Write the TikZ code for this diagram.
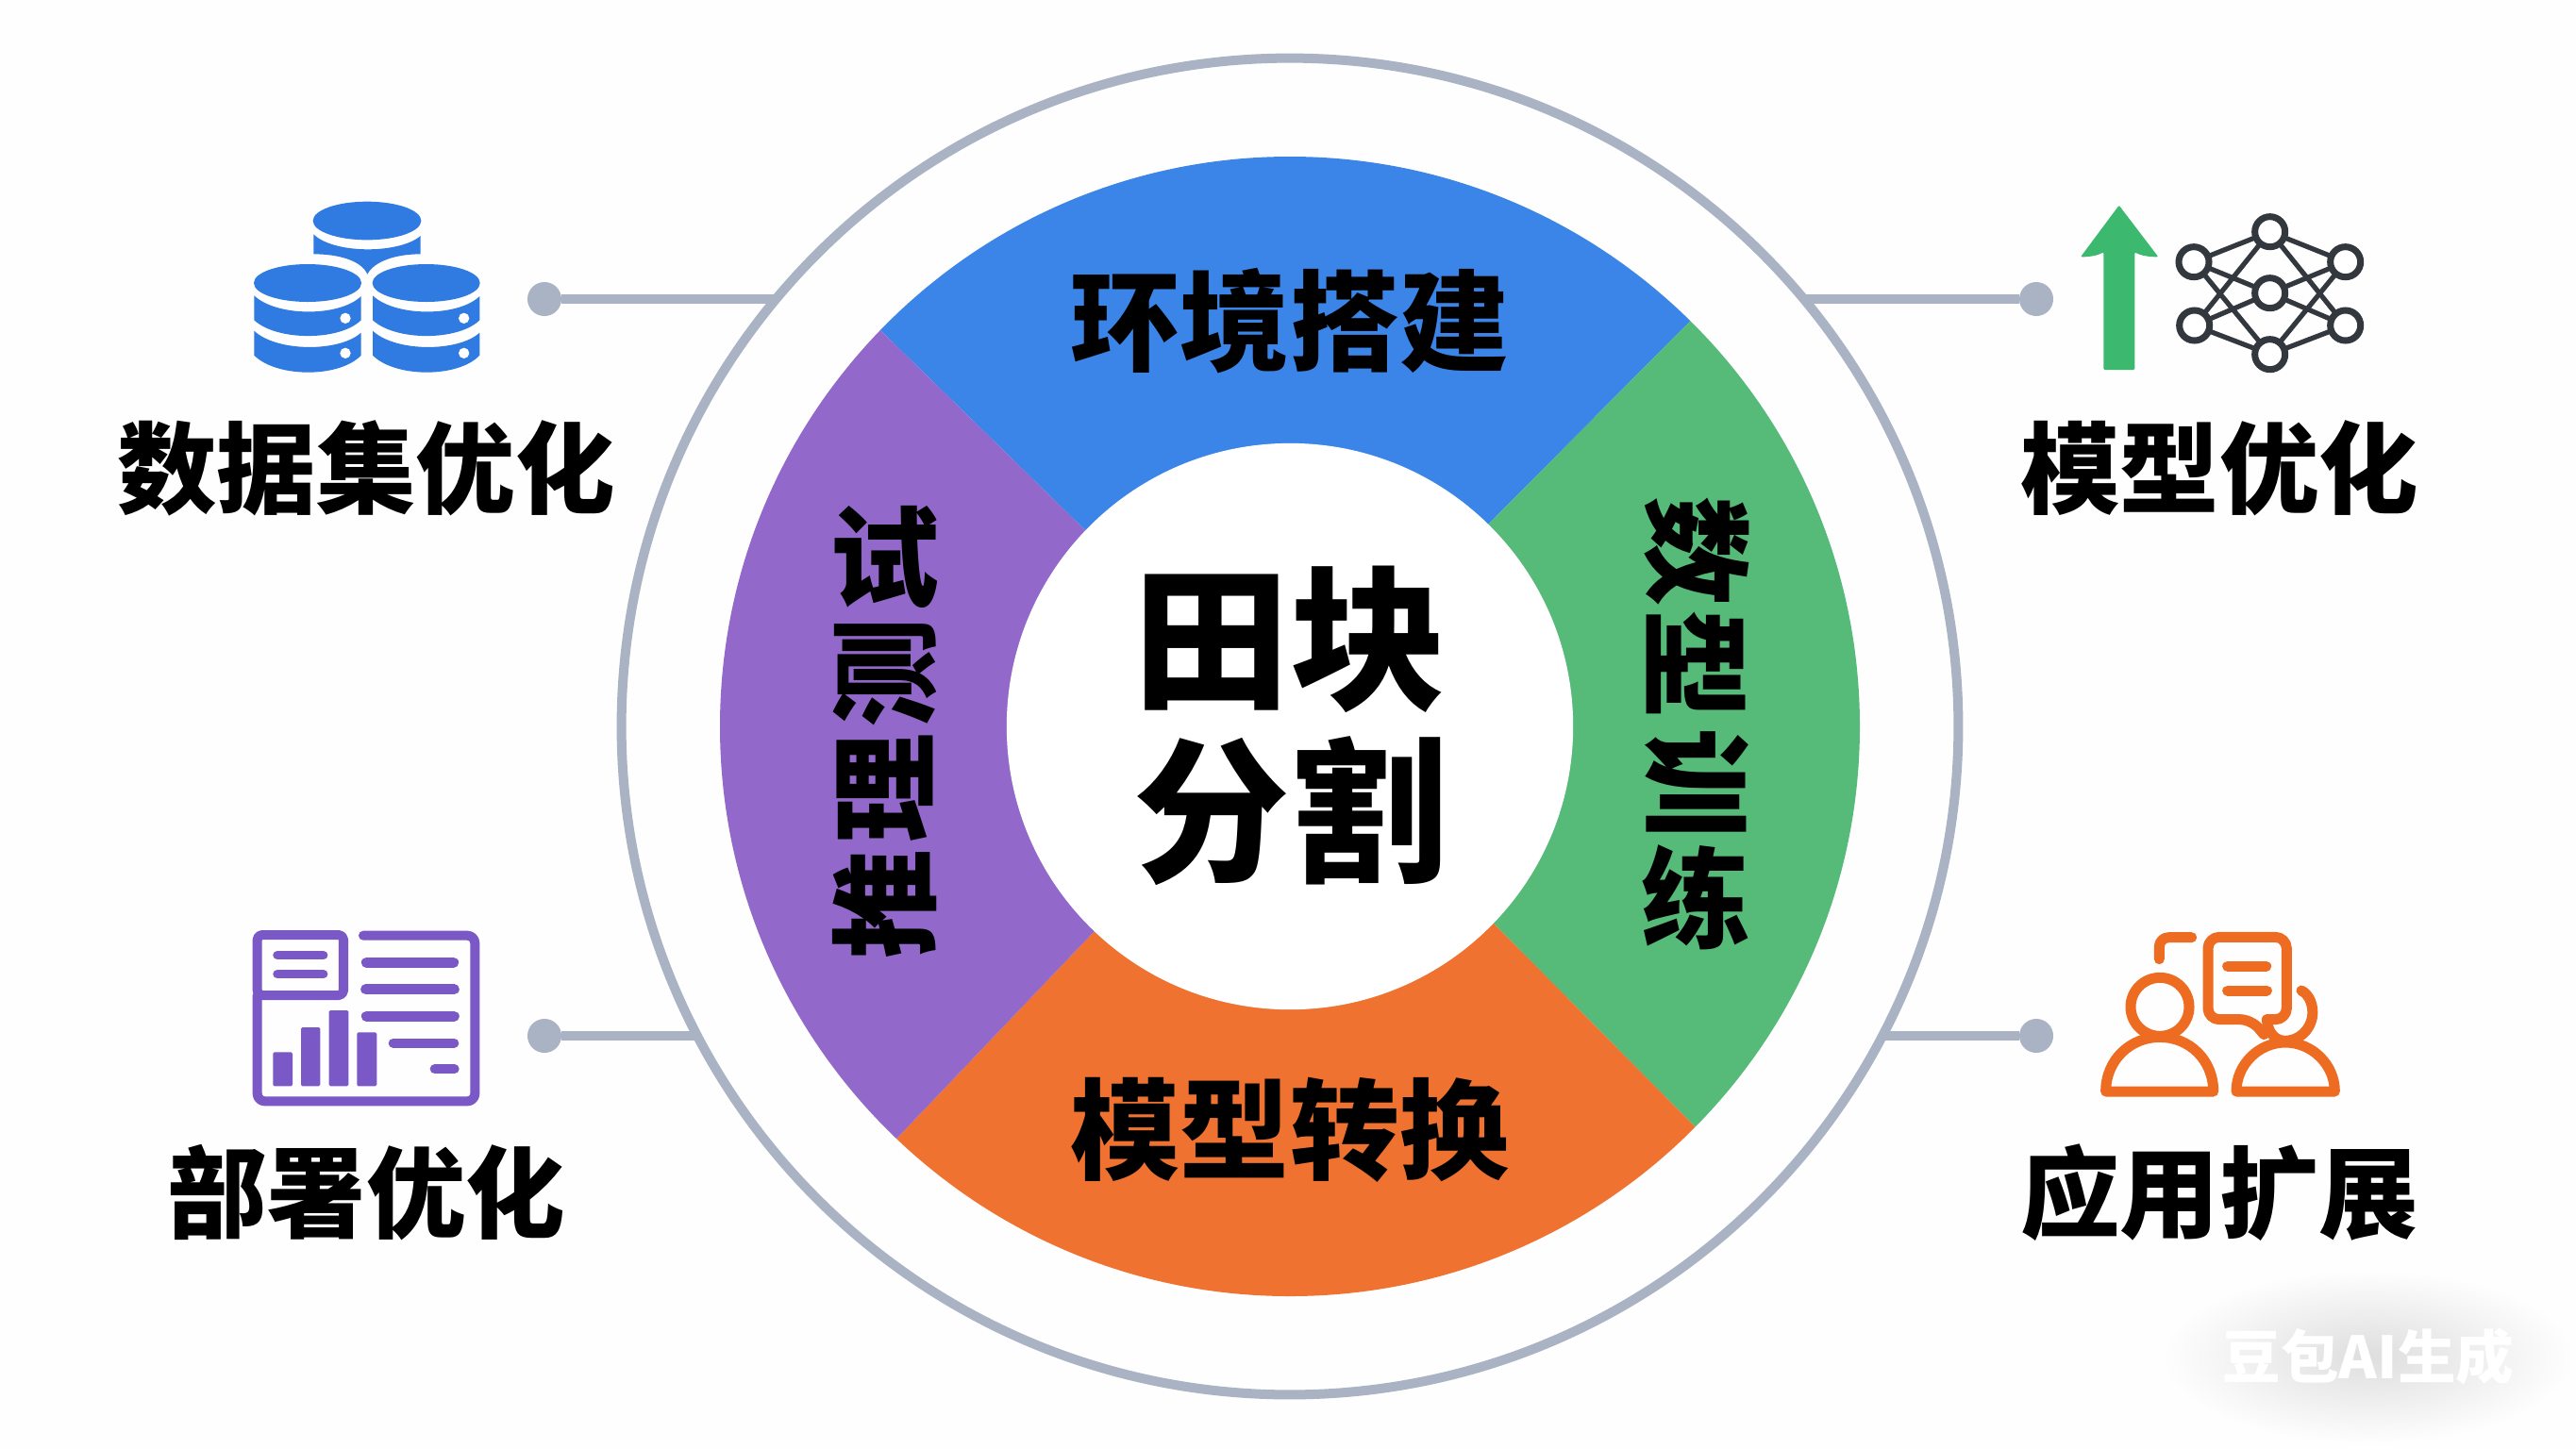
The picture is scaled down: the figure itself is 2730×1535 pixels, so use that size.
\documentclass[tikz,border=0pt]{standalone}
\usepackage{fontspec}
\usetikzlibrary{shadings}
\newfontfamily\cjk{Noto Sans CJK SC Black}
\definecolor{bgc}{HTML}{FEFEFE}
\definecolor{ringc}{HTML}{A9B3C3}
\definecolor{bluec}{HTML}{3C85E8}
\definecolor{purplec}{HTML}{9368CB}
\definecolor{greenc}{HTML}{56BA79}
\definecolor{orangec}{HTML}{EF7231}
\definecolor{iconblue}{HTML}{2F7BE2}
\definecolor{iconpurple}{HTML}{7A58C6}
\definecolor{icongreen}{HTML}{3DB86F}
\definecolor{iconorange}{HTML}{EE6C22}
\definecolor{netc}{HTML}{33383F}
\tikzset{
  x=0.01cm,y=-0.01cm,
  label text/.style={font=\cjk\fontsize{30pt}{32pt}\selectfont,inner sep=0,text=black},
  seg text/.style={font=\cjk\fontsize{33pt}{35pt}\selectfont,inner sep=0,text=black},
  hub text/.style={font=\cjk\fontsize{47pt}{51pt}\selectfont,inner sep=0,text=black},
  dotnode/.style={circle,fill=ringc,inner sep=0,outer sep=0,minimum size=0.36cm},
  wire/.style={draw=ringc,line width=0.1cm},
  netnode/.style={circle,draw=netc,fill=white,line width=0.07cm,inner sep=0,minimum size=0.32cm},
  netline/.style={draw=netc,line width=0.052cm},
  repstroke/.style={draw=iconpurple,line width=0.1cm,line cap=round,line join=round},
  repline/.style={draw=iconpurple,line width=0.1cm,line cap=round},
  repbar/.style={fill=iconpurple,rounded corners=0.015cm},
  pplstroke/.style={draw=iconorange,line width=0.11cm,line cap=round,line join=round},
}
\begin{document}
\begin{tikzpicture}
\useasboundingbox (0,0) rectangle (2730,1535);
\fill[bgc] (0,0) rectangle (2730,1535);

% coloured ring
\begin{scope}
\clip (1367,770) circle[radius=604];
\fill[bluec] (1367,770) -- (1149,561) -- (721,143) -- (1367,-100) -- (2000,130) -- (1579,554) -- cycle;
\fill[greenc] (1367,770) -- (1579,554) -- (2000,130) -- (2300,770) -- (2000,1400) -- (1584,980) -- cycle;
\fill[orangec] (1367,770) -- (1584,980) -- (2000,1400) -- (1367,1700) -- (746,1421) -- (1158,989) -- cycle;
\fill[purplec] (1367,770) -- (1158,989) -- (746,1421) -- (500,770) -- (721,143) -- (1149,561) -- cycle;
\end{scope}
\node[circle,fill=white,inner sep=0,outer sep=0,minimum size=6cm] (hub) at (1367,770) {};
\node[circle,draw=ringc,line width=0.1cm,inner sep=0,outer sep=0,minimum size=14.16cm] (ring) at (1367,770) {};

% connectors
\node[dotnode] (dotTL) at (577,317) {};
\node[dotnode] (dotTR) at (2158,317) {};
\node[dotnode] (dotBL) at (577,1098) {};
\node[dotnode] (dotBR) at (2158,1098) {};
\coordinate (ringTL) at (823,317);
\coordinate (ringTR) at (1911,317);
\coordinate (ringBL) at (740,1098);
\coordinate (ringBR) at (1994,1098);
\draw[wire] (dotTL) -- (ringTL);
\draw[wire] (dotTR) -- (ringTR);
\draw[wire] (dotBL) -- (ringBL);
\draw[wire] (dotBR) -- (ringBR);

% centre and segment texts
\node[hub text] (hubA) at (1367,678) {田块};
\node[hub text] (hubB) at (1367,860) {分割};
\node[seg text] (segTop) at (1367,340) {环境搭建};
\node[seg text] (segBot) at (1367,1198) {模型转换};
\node[seg text] (lA) at (938,590) {试};
\node[seg text,rotate=90] (lB) at (938,713) {测};
\node[seg text,rotate=90] (lC) at (938,835) {理};
\node[seg text,rotate=90] (lD) at (938,958) {推};
\node[seg text,rotate=-90] (rA) at (1798,585) {数};
\node[seg text,rotate=-90] (rB) at (1798,705) {型};
\node[seg text,rotate=-90] (rC) at (1798,830) {训};
\node[seg text] (rD) at (1798,951) {练};

% side labels
\node[label text] (lbTL) at (388,496) {数据集优化};
\node[label text] (lbTR) at (2352,496) {模型优化};
\node[label text] (lbBL) at (388,1264) {部署优化};
\node[label text] (lbBR) at (2352,1264) {应用扩展};

% database icon
\begin{scope}[shift={(220,180)},scale=1/3]
\fill[iconblue] (507,162) ellipse[x radius=172,y radius=61];
\fill[iconblue] (337,205) .. controls (400,268) and (610,268) .. (677,210) -- (677,268) .. controls (600,268) and (530,290) .. (508,332) .. controls (490,290) and (420,268) .. (337,268) -- cycle;
\foreach \dx in {0,377}{
\begin{scope}[shift={(\dx,0)}]
\fill[iconblue] (318,360) ellipse[x radius=171,y radius=60];
\fill[iconblue] (148,400) .. controls (220,468) and (420,468) .. (488,402) -- (488,478) .. controls (420,545) and (220,545) .. (148,478) -- cycle;
\fill[iconblue] (148,512) .. controls (220,580) and (420,580) .. (488,518) -- (488,590) .. controls (420,662) and (220,662) .. (148,590) -- cycle;
\fill[white] (438,472) circle[radius=17] (438,583) circle[radius=17];
\end{scope}}
\end{scope}

% arrow and network icon
\begin{scope}[shift={(2140,180)},scale=1/3]
\fill[icongreen,rounded corners=0.012cm] (317,113) -- (442,277) .. controls (410,277) and (385,272) .. (367,262) -- (367,636) -- (268,636) -- (268,262) .. controls (250,272) and (225,277) .. (195,277) -- cycle;
\coordinate (nA) at (797,197);
\coordinate (nB) at (555,293);
\coordinate (nC) at (1037,293);
\coordinate (nD) at (797,392);
\coordinate (nE) at (557,495);
\coordinate (nF) at (1037,495);
\coordinate (nG) at (797,587);
\draw[netline] (nA)--(nB) (nA)--(nC) (nA)--(nE) (nA)--(nF) (nG)--(nB) (nG)--(nC) (nG)--(nE) (nG)--(nF) (nD)--(nB) (nD)--(nC) (nD)--(nE) (nD)--(nF);
\foreach \n in {nA,nB,nC,nD,nE,nF,nG}{\node[netnode] (c\n) at (\n) {};}
\end{scope}

% report icon
\begin{scope}[shift={(220,960)},scale=1/3]
\draw[repstroke,rounded corners=0.08cm] (495,95) -- (850,95) -- (850,622) -- (158,622) -- (158,285);
\draw[repstroke,rounded corners=0.05cm] (158,93) rectangle (432,285);
\draw[repline,line width=0.095cm] (222,158)--(368,158) (222,218)--(368,218);
\draw[repline,line width=0.11cm] (505,181)--(782,181) (503,266)--(784,266) (505,352)--(784,352);
\draw[repline] (590,437)--(784,437) (722,520)--(785,520);
\fill[repbar] (208,466) rectangle (270,574);
\fill[repbar] (297,387) rectangle (358,574);
\fill[repbar] (386,333) rectangle (448,574);
\fill[repbar] (475,403) rectangle (538,574);
\end{scope}

% people icon
\begin{scope}[shift={(2140,960)},scale=1/3]
\draw[pplstroke] (447,322) circle[radius=93];
\draw[pplstroke] (275,591) -- (617,591) .. controls (617,490) and (540,418) .. (447,418) .. controls (354,418) and (275,490) .. (275,591) -- cycle;
\draw[pplstroke] (690,591) -- (1003,591) .. controls (1003,505) and (930,435) .. (846,435) .. controls (762,435) and (690,505) .. (690,591) -- cycle;
\draw[pplstroke] (897,270) .. controls (925,285) and (935,320) .. (932,350) .. controls (925,400) and (885,430) .. (845,430) .. controls (815,430) and (790,405) .. (787,362);
\draw[pplstroke,rounded corners=0.12cm] (787,362) -- (850,362) -- (850,100) -- (600,100) -- (600,362) -- (738,362) -- (778,410);
\draw[pplstroke] (662,193)--(785,193) (662,270)--(787,270);
\draw[pplstroke,rounded corners=0.1cm] (445,170) -- (445,101) -- (548,101);
\end{scope}

% watermark
\shade[inner color=black!13,outer color=bgc] (2510,1438) ellipse[x radius=218,y radius=92];
\node[font=\cjk\fontsize{17.5pt}{18pt}\selectfont,text=white,inner sep=0] (mark) at (2510,1438) {豆包AI生成};
\end{tikzpicture}
\end{document}
